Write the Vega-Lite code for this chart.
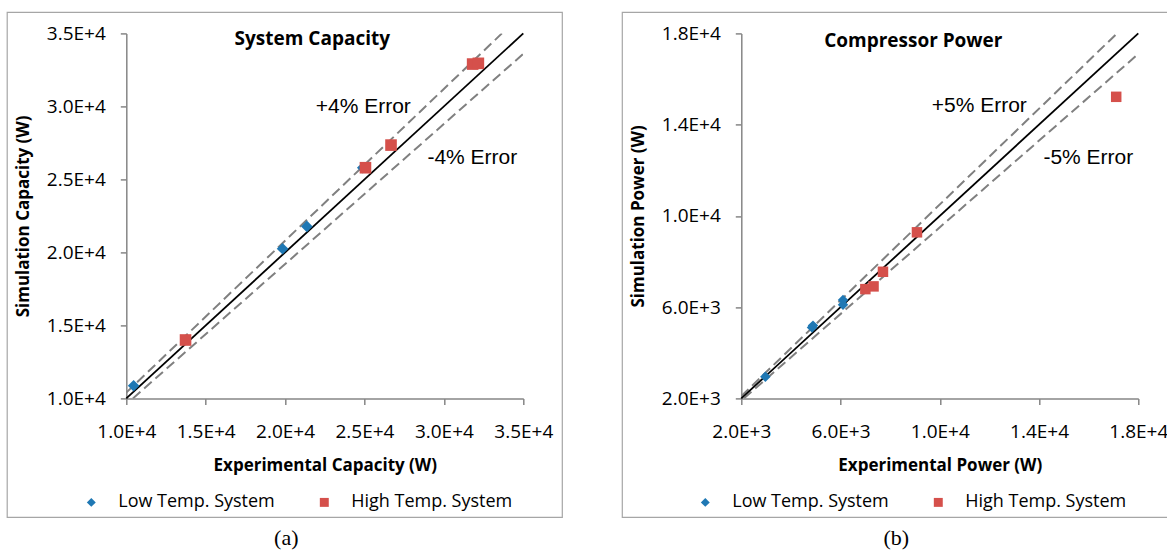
{
  "$schema": "https://vega.github.io/schema/vega-lite/v6.json",
  "autosize": {"type": "pad"},
  "padding": {"left": 6.3, "top": 11.4, "right": 0, "bottom": 0},
  "background": "white",
  "spacing": 218,
  "bounds": "flush",
  "config": {
    "view": {"stroke": null},
    "axis": {
      "grid": false,
      "domainColor": "#868686",
      "domainWidth": 1.5,
      "tickColor": "#868686",
      "tickWidth": 1.5,
      "tickSize": 6,
      "labelFont": "Open Sans",
      "labelFontSize": 19,
      "labelColor": "#000000",
      "labelFlush": false,
      "labelOverlap": false,
      "titleFont": "Open Sans",
      "titleFontSize": 17,
      "titleFontWeight": "bold",
      "titleColor": "#000000",
      "labelExpr": "replace(format(datum.value, '.1e'), 'e', 'E')"
    },
    "axisX": {"labelPadding": 18, "titlePadding": 16},
    "axisY": {"labelPadding": 15, "titlePadding": 14},
    "legend": {
      "orient": "none",
      "direction": "horizontal",
      "padding": 0,
      "labelFont": "Open Sans",
      "labelFontSize": 18,
      "labelColor": "#000000",
      "labelLimit": 300,
      "symbolSize": 80,
      "labelOffset": 18,
      "columnPadding": 40,
      "symbolStrokeWidth": 0
    }
  },
  "datasets": {
    "capFrame": [
      {"exp": 2500, "exp2": 37456, "sim": 36438, "sim2": 1849}
    ],
    "capPoints": [
      {"system": "Low Temp. System", "exp": 10460, "sim": 10870},
      {"system": "Low Temp. System", "exp": 19840, "sim": 20250},
      {"system": "Low Temp. System", "exp": 21370, "sim": 21780},
      {"system": "Low Temp. System", "exp": 24890, "sim": 25800},
      {"system": "High Temp. System", "exp": 13730, "sim": 14000},
      {"system": "High Temp. System", "exp": 25060, "sim": 25800},
      {"system": "High Temp. System", "exp": 26670, "sim": 27350},
      {"system": "High Temp. System", "exp": 31810, "sim": 32900},
      {"system": "High Temp. System", "exp": 32170, "sim": 32950}
    ],
    "capSolid": [
      {"exp": 10000, "sim": 10000},
      {"exp": 35000, "sim": 35000}
    ],
    "capBands": [
      {"band": "+4%", "exp": 10000, "sim": 10400},
      {"band": "+4%", "exp": 33654, "sim": 35000},
      {"band": "-4%", "exp": 10417, "sim": 10000},
      {"band": "-4%", "exp": 35000, "sim": 33600}
    ],
    "capNotes": [
      {"note": "+4% Error", "exp": 24924, "sim": 29932},
      {"note": "-4% Error", "exp": 31788, "sim": 26438}
    ],
    "capTitle": [
      {"t": "System Capacity", "exp": 21713, "sim": 34589}
    ],
    "capCaption": [
      {"t": "(a)", "exp": 20076, "sim": 411}
    ],
    "powFrame": [
      {"exp": -2796, "exp2": 19400, "sim": 18921, "sim2": -3217}
    ],
    "powPoints": [
      {"system": "Low Temp. System", "exp": 2970, "sim": 2950},
      {"system": "Low Temp. System", "exp": 4850, "sim": 5110},
      {"system": "Low Temp. System", "exp": 4890, "sim": 5190},
      {"system": "Low Temp. System", "exp": 6100, "sim": 6310},
      {"system": "Low Temp. System", "exp": 6100, "sim": 6110},
      {"system": "High Temp. System", "exp": 7000, "sim": 6790},
      {"system": "High Temp. System", "exp": 7330, "sim": 6910},
      {"system": "High Temp. System", "exp": 7710, "sim": 7550},
      {"system": "High Temp. System", "exp": 9080, "sim": 9280},
      {"system": "High Temp. System", "exp": 17110, "sim": 15220}
    ],
    "powSolid": [
      {"exp": 2000, "sim": 2000},
      {"exp": 18000, "sim": 18000}
    ],
    "powBands": [
      {"band": "+5%", "exp": 2000, "sim": 2100},
      {"band": "+5%", "exp": 17143, "sim": 18000},
      {"band": "-5%", "exp": 2105, "sim": 2000},
      {"band": "-5%", "exp": 18000, "sim": 17100}
    ],
    "powNotes": [
      {"note": "+5% Error", "exp": 11593, "sim": 14800},
      {"note": "-5% Error", "exp": 15986, "sim": 12520}
    ],
    "powTitle": [
      {"t": "Compressor Power", "exp": 8933, "sim": 17662}
    ],
    "powCaption": [
      {"t": "(b)", "exp": 8247, "sim": -4138}
    ]
  },
  "hconcat": [
    {
      "width": 397,
      "height": 365,
      "encoding": {
        "x": {"field": "exp", "type": "quantitative",
              "scale": {"domain": [10000, 35000], "nice": false, "zero": false},
              "axis": {"values": [10000, 15000, 20000, 25000, 30000, 35000], "title": "Experimental Capacity (W)"}},
        "y": {"field": "sim", "type": "quantitative",
              "scale": {"domain": [10000, 35000], "nice": false, "zero": false},
              "axis": {"values": [10000, 15000, 20000, 25000, 30000, 35000], "title": "Simulation Capacity (W)"}}
      },
      "layer": [
        {
          "data": {"name": "capFrame"},
          "mark": {"type": "rect", "filled": false, "stroke": "#A6A6A6", "strokeWidth": 1.2, "clip": false},
          "encoding": {
            "x2": {"field": "exp2"},
            "y2": {"field": "sim2"}
          }
        },
        {
          "data": {"name": "capBands"},
          "mark": {"type": "line", "color": "#808080", "strokeWidth": 2, "strokeDash": [10, 5], "clip": true},
          "encoding": {"detail": {"field": "band"}}
        },
        {
          "data": {"name": "capSolid"},
          "mark": {"type": "line", "color": "#000000", "strokeWidth": 1.8},
          "encoding": {}
        },
        {
          "data": {"name": "capPoints"},
          "mark": {"type": "point", "filled": true, "opacity": 1, "size": 135},
          "encoding": {
            "color": {"field": "system", "type": "nominal",
                      "scale": {"domain": ["Low Temp. System", "High Temp. System"], "range": ["#1F78B4", "#D5504B"]},
                      "legend": {"title": null, "legendX": -44, "legendY": 460}},
            "shape": {"field": "system", "type": "nominal",
                      "scale": {"domain": ["Low Temp. System", "High Temp. System"], "range": ["diamond", "square"]},
                      "legend": {"title": null, "legendX": -44, "legendY": 460}}
          }
        },
        {
          "data": {"name": "capNotes"},
          "mark": {"type": "text", "font": "Liberation Sans", "fontSize": 21, "color": "#000000", "align": "center", "baseline": "middle"},
          "encoding": {"text": {"field": "note"}}
        },
        {
          "data": {"name": "capTitle"},
          "mark": {"type": "text", "font": "Open Sans", "fontSize": 19, "fontWeight": "bold", "color": "#000000", "align": "center", "baseline": "middle"},
          "encoding": {"text": {"field": "t"}}
        },
        {
          "data": {"name": "capCaption"},
          "mark": {"type": "text", "font": "Liberation Serif", "fontSize": 22, "color": "#000000", "align": "center", "baseline": "middle", "clip": false},
          "encoding": {"text": {"field": "t"}}
        }
      ]
    },
    {
      "width": 397,
      "height": 365,
      "encoding": {
        "x": {"field": "exp", "type": "quantitative",
              "scale": {"domain": [2000, 18000], "nice": false, "zero": false},
              "axis": {"values": [2000, 6000, 10000, 14000, 18000], "title": "Experimental Power (W)"}},
        "y": {"field": "sim", "type": "quantitative",
              "scale": {"domain": [2000, 18000], "nice": false, "zero": false},
              "axis": {"values": [2000, 6000, 10000, 14000, 18000], "title": "Simulation Power (W)"}}
      },
      "layer": [
        {
          "data": {"name": "powFrame"},
          "mark": {"type": "rect", "filled": false, "stroke": "#A6A6A6", "strokeWidth": 1.2, "clip": false},
          "encoding": {
            "x2": {"field": "exp2"},
            "y2": {"field": "sim2"}
          }
        },
        {
          "data": {"name": "powBands"},
          "mark": {"type": "line", "color": "#808080", "strokeWidth": 2, "strokeDash": [10, 5], "clip": true},
          "encoding": {"detail": {"field": "band"}}
        },
        {
          "data": {"name": "powSolid"},
          "mark": {"type": "line", "color": "#000000", "strokeWidth": 1.8},
          "encoding": {}
        },
        {
          "data": {"name": "powPoints"},
          "mark": {"type": "point", "filled": true, "opacity": 1, "size": 110},
          "encoding": {
            "color": {"field": "system", "type": "nominal",
                      "scale": {"domain": ["Low Temp. System", "High Temp. System"], "range": ["#1F78B4", "#D5504B"]},
                      "legend": {"title": null, "legendX": -45, "legendY": 460}},
            "shape": {"field": "system", "type": "nominal",
                      "scale": {"domain": ["Low Temp. System", "High Temp. System"], "range": ["diamond", "square"]},
                      "legend": {"title": null, "legendX": -45, "legendY": 460}}
          }
        },
        {
          "data": {"name": "powNotes"},
          "mark": {"type": "text", "font": "Liberation Sans", "fontSize": 21, "color": "#000000", "align": "center", "baseline": "middle"},
          "encoding": {"text": {"field": "note"}}
        },
        {
          "data": {"name": "powTitle"},
          "mark": {"type": "text", "font": "Open Sans", "fontSize": 19, "fontWeight": "bold", "color": "#000000", "align": "center", "baseline": "middle"},
          "encoding": {"text": {"field": "t"}}
        },
        {
          "data": {"name": "powCaption"},
          "mark": {"type": "text", "font": "Liberation Serif", "fontSize": 22, "color": "#000000", "align": "center", "baseline": "middle", "clip": false},
          "encoding": {"text": {"field": "t"}}
        }
      ]
    }
  ],
  "resolve": {
    "scale": {"color": "independent", "shape": "independent"},
    "legend": {"color": "independent", "shape": "independent"}
  }
}
